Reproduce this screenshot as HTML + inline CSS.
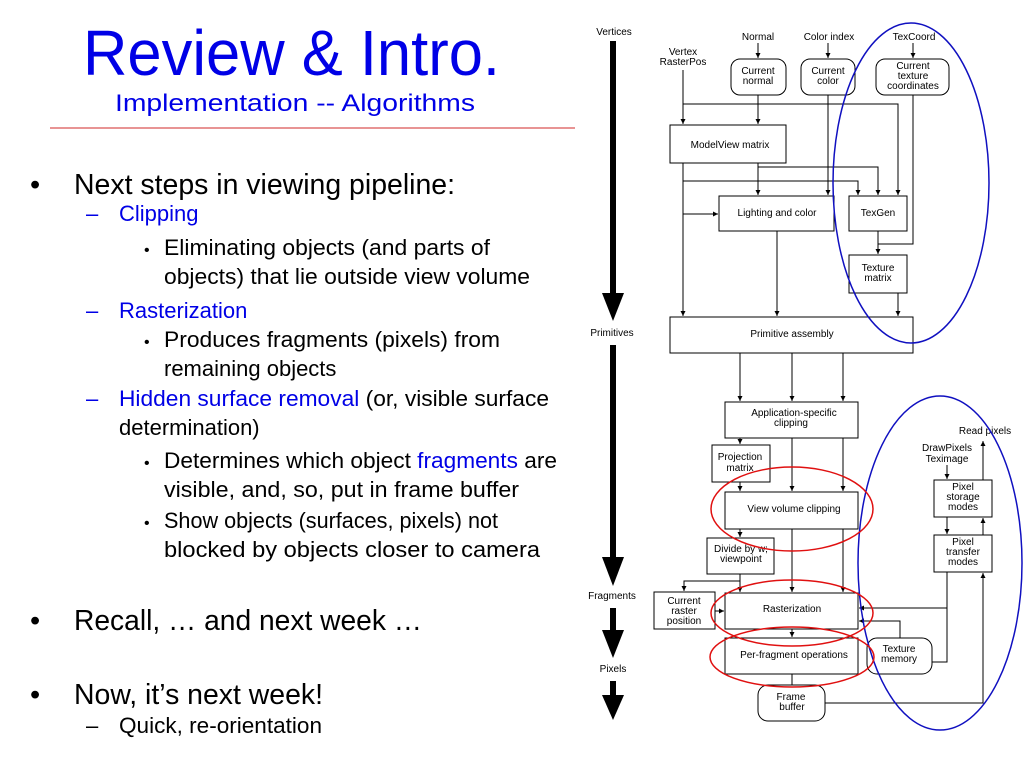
<!DOCTYPE html>
<html><head><meta charset="utf-8"><style>
html,body{margin:0;padding:0;background:#fff;}
svg{display:block;font-family:"Liberation Sans",Arial,sans-serif;}
</style></head><body>
<svg width="1024" height="768" viewBox="0 0 1024 768" xmlns="http://www.w3.org/2000/svg">
<defs>
<marker id="a" markerWidth="6" markerHeight="6" refX="5" refY="3" orient="auto" markerUnits="userSpaceOnUse"><path d="M0,0.5 L5,3 L0,5.5Z" fill="#000"/></marker>
</defs>
<!-- left text -->
<text x="83" y="75" font-size="64" fill="#0000e6" textLength="417" lengthAdjust="spacingAndGlyphs">Review &amp; Intro.</text>
<text x="115" y="111" font-size="24" fill="#0000e6" textLength="360" lengthAdjust="spacingAndGlyphs">Implementation -- Algorithms</text>
<line x1="50" y1="128" x2="575" y2="128" stroke="#e07070" stroke-width="1.5"/>
<g font-size="29" fill="#000">
<text x="30" y="194">•</text><text x="74" y="194" textLength="381" lengthAdjust="spacingAndGlyphs">Next steps in viewing pipeline:</text>
<text x="30" y="630">•</text><text x="74" y="630" textLength="348" lengthAdjust="spacingAndGlyphs">Recall, … and next week …</text>
<text x="30" y="704">•</text><text x="74" y="704" textLength="249" lengthAdjust="spacingAndGlyphs">Now, it’s next week!</text>
</g>
<g font-size="22">
<text x="86" y="221" fill="#0000e6">–</text><text x="119" y="221" fill="#0000e6">Clipping</text>
<text x="86" y="318" fill="#0000e6">–</text><text x="119" y="318" fill="#0000e6">Rasterization</text>
<text x="86" y="406" fill="#0000e6">–</text><text x="119" y="406" textLength="430" lengthAdjust="spacingAndGlyphs"><tspan fill="#0000e6">Hidden surface removal</tspan> (or, visible surface</text>
<text x="119" y="435">determination)</text>
<text x="86" y="733">–</text><text x="119" y="733" textLength="203" lengthAdjust="spacingAndGlyphs">Quick, re-orientation</text>
<text x="144" y="255" font-size="16">•</text><text x="164" y="255" textLength="326" lengthAdjust="spacingAndGlyphs">Eliminating objects (and parts of</text>
<text x="164" y="284" textLength="366" lengthAdjust="spacingAndGlyphs">objects) that lie outside view volume</text>
<text x="144" y="347" font-size="16">•</text><text x="164" y="347" textLength="336" lengthAdjust="spacingAndGlyphs">Produces fragments (pixels) from</text>
<text x="164" y="376">remaining objects</text>
<text x="144" y="468" font-size="16">•</text><text x="164" y="468" textLength="393" lengthAdjust="spacingAndGlyphs">Determines which object <tspan fill="#0000e6">fragments</tspan> are</text>
<text x="164" y="497" textLength="355" lengthAdjust="spacingAndGlyphs">visible, and, so, put in frame buffer</text>
<text x="144" y="528" font-size="16">•</text><text x="164" y="528" textLength="334" lengthAdjust="spacingAndGlyphs">Show objects (surfaces, pixels) not</text>
<text x="164" y="557" textLength="376" lengthAdjust="spacingAndGlyphs">blocked by objects closer to camera</text>
</g>
<!-- big arrows -->
<g fill="#000">
<rect x="610" y="41" width="6" height="254"/><path d="M602,293 L624,293 L613,321Z"/>
<rect x="610" y="345" width="6" height="214"/><path d="M602,557 L624,557 L613,586Z"/>
<rect x="610" y="608" width="6" height="24"/><path d="M602,630 L624,630 L613,658Z"/>
<rect x="610" y="681" width="6" height="16"/><path d="M602,695 L624,695 L613,720Z"/>
</g>
<g font-size="10" fill="#000" text-anchor="middle">
<text x="614" y="35">Vertices</text>
<text x="612" y="336">Primitives</text>
<text x="612" y="599">Fragments</text>
<text x="613" y="672">Pixels</text>
<text x="758" y="40">Normal</text>
<text x="829" y="40">Color index</text>
<text x="914" y="40">TexCoord</text>
<text x="683" y="55">Vertex</text><text x="683" y="65">RasterPos</text>
<text x="985" y="434">Read pixels</text>
<text x="947" y="451">DrawPixels</text><text x="947" y="462">Teximage</text>
</g>
<!-- boxes -->
<g fill="#fff" stroke="#000" stroke-width="1">
<rect x="731" y="59" width="55" height="36" rx="9"/>
<rect x="801" y="59" width="54" height="36" rx="9"/>
<rect x="876" y="59" width="73" height="36" rx="9"/>
<rect x="670" y="125" width="116" height="38"/>
<rect x="719" y="196" width="115" height="35"/>
<rect x="849" y="196" width="58" height="35"/>
<rect x="849" y="255" width="58" height="38"/>
<rect x="670" y="317" width="243" height="36"/>
<rect x="725" y="402" width="133" height="36"/>
<rect x="712" y="445" width="58" height="37"/>
<rect x="725" y="492" width="133" height="37"/>
<rect x="707" y="538" width="67" height="36"/>
<rect x="654" y="592" width="61" height="37"/>
<rect x="725" y="593" width="133" height="36"/>
<rect x="725" y="638" width="133" height="36"/>
<rect x="867" y="638" width="65" height="36" rx="10"/>
<rect x="758" y="685" width="67" height="36" rx="10"/>
<rect x="934" y="480" width="58" height="37"/>
<rect x="934" y="535" width="58" height="37"/>
</g>
<g font-size="10" fill="#000" text-anchor="middle">
<text x="758" y="74">Current</text><text x="758" y="84">normal</text>
<text x="828" y="74">Current</text><text x="828" y="84">color</text>
<text x="913" y="69">Current</text><text x="913" y="79">texture</text><text x="913" y="89">coordinates</text>
<text x="730" y="148">ModelView matrix</text>
<text x="777" y="216">Lighting and color</text>
<text x="878" y="216">TexGen</text>
<text x="878" y="271">Texture</text><text x="878" y="281">matrix</text>
<text x="792" y="337">Primitive assembly</text>
<text x="794" y="416">Application-specific</text><text x="791" y="426">clipping</text>
<text x="740" y="460">Projection</text><text x="740" y="471">matrix</text>
<text x="794" y="512">View volume clipping</text>
<text x="741" y="552">Divide by w;</text><text x="741" y="562">viewpoint</text>
<text x="684" y="604">Current</text><text x="684" y="614">raster</text><text x="684" y="624">position</text>
<text x="792" y="612">Rasterization</text>
<text x="794" y="658">Per-fragment operations</text>
<text x="899" y="652">Texture</text><text x="899" y="662">memory</text>
<text x="791" y="700">Frame</text><text x="792" y="710">buffer</text>
<text x="963" y="490">Pixel</text><text x="963" y="500">storage</text><text x="963" y="510">modes</text>
<text x="963" y="545">Pixel</text><text x="963" y="555">transfer</text><text x="963" y="565">modes</text>
</g>
<!-- connectors -->
<g stroke="#000" stroke-width="1" fill="none">
<path d="M758,43V58" marker-end="url(#a)"/>
<path d="M828,43V58" marker-end="url(#a)"/>
<path d="M913,43V58" marker-end="url(#a)"/>
<path d="M683,70V124" marker-end="url(#a)"/>
<path d="M683,104H898V195" marker-end="url(#a)"/>
<path d="M758,95V124" marker-end="url(#a)"/>
<path d="M828,95V195" marker-end="url(#a)"/>
<path d="M913,95V244H878"/>
<path d="M683,163V316" marker-end="url(#a)"/>
<path d="M758,163V195" marker-end="url(#a)"/>
<path d="M758,167H878V195" marker-end="url(#a)"/>
<path d="M683,181H858V195" marker-end="url(#a)"/>
<path d="M683,214H718" marker-end="url(#a)"/>
<path d="M777,231V316" marker-end="url(#a)"/>
<path d="M878,231V254" marker-end="url(#a)"/>
<path d="M898,293V316" marker-end="url(#a)"/>
<path d="M740,353V401" marker-end="url(#a)"/>
<path d="M792,353V401" marker-end="url(#a)"/>
<path d="M843,353V401" marker-end="url(#a)"/>
<path d="M740,438V444" marker-end="url(#a)"/>
<path d="M792,438V491" marker-end="url(#a)"/>
<path d="M843,438V491" marker-end="url(#a)"/>
<path d="M740,482V491" marker-end="url(#a)"/>
<path d="M740,529V537" marker-end="url(#a)"/>
<path d="M792,529V592" marker-end="url(#a)"/>
<path d="M843,529V592" marker-end="url(#a)"/>
<path d="M740,574V592" marker-end="url(#a)"/>
<path d="M740,581H684V591" marker-end="url(#a)"/>
<path d="M715,611H724" marker-end="url(#a)"/>
<path d="M792,629V637" marker-end="url(#a)"/>
<path d="M792,674V685"/>
<path d="M825,703H983V573" marker-end="url(#a)"/>
<path d="M983,535V518" marker-end="url(#a)"/>
<path d="M983,480V441" marker-end="url(#a)"/>
<path d="M947,465V479" marker-end="url(#a)"/>
<path d="M947,517V534" marker-end="url(#a)"/>
<path d="M947,572V662H932"/>
<path d="M947,608H859" marker-end="url(#a)"/>
<path d="M900,638V621H859" marker-end="url(#a)"/>
</g>
<!-- ellipses -->
<g fill="none" stroke-width="1.5">
<ellipse cx="911" cy="183" rx="78" ry="160" stroke="#1010c0"/>
<ellipse cx="940" cy="563" rx="82" ry="167" stroke="#1010c0"/>
<ellipse cx="792" cy="509" rx="81" ry="42" stroke="#e01010"/>
<ellipse cx="792" cy="613" rx="81" ry="33" stroke="#e01010"/>
<ellipse cx="792" cy="657" rx="82" ry="30" stroke="#e01010"/>
</g>
</svg>
</body></html>
